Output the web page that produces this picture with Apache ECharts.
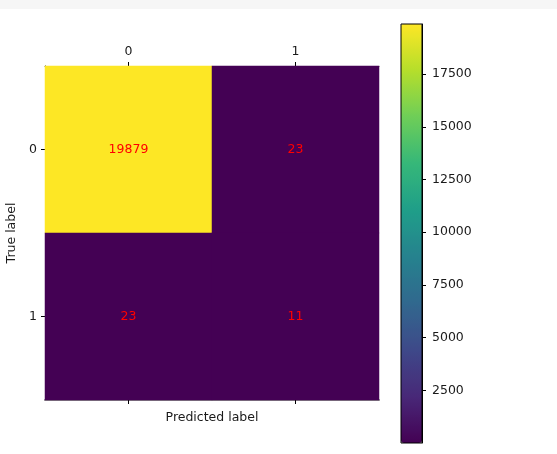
<!DOCTYPE html>
<html>
<head>
<meta charset="utf-8">
<title>confusion matrix</title>
<script src="https://cdn.jsdelivr.net/npm/echarts@6/dist/echarts.min.js"></script>
<style>
  html, body {margin: 0; padding: 0; background: #fff;}
  #chart {width: 557px; height: 454px;}
</style>
</head>
<body>
<div id="chart"></div>
<script>
  /******************/
  //region    //data

  let classes = ['0', '1'];
  // rows = true label, cols = predicted label
  let matrix = [
    [19879, 23],
    [23, 11],
  ];
  let barStep = 2500; // colorbar ticks 2500 .. 17500
  let viridis = ['#440154', '#482878', '#3e4989', '#31688e', '#26828e',
    '#1f9e89', '#35b779', '#6ece58', '#b5de2b', '#fde725'];

  //endregion

  /******************/
  //region    //chart

  let cells = [];
  matrix.forEach((row, r) => row.forEach((v, c) => cells.push([c, r, v])));
  let flat = [].concat(...matrix);
  let vMin = Math.min(...flat), vMax = Math.max(...flat);

  let font = 'DejaVu Sans';
  let txt = '#1a1a1a';
  let tick = {show: true, inside: false, alignWithLabel: true, length: 4, lineStyle: {color: '#000', width: 1}};
  let chart = echarts.init(document.getElementById('chart'));

  let option = {
    animation: false,
    textStyle: {fontFamily: font},
    graphic: [{
      type: 'rect',
      shape: {x: 0, y: 0, width: 557, height: 9},
      style: {fill: '#f6f6f6'},
      silent: true,
    }],
    grid: [
      {left: 45, top: 66, width: 334, height: 334, show: false, outerBoundsMode: 'none'},
      {left: 401, top: 24, width: 21, height: 419, show: true, outerBoundsMode: 'none',
        borderColor: '#000', borderWidth: 1, backgroundColor: 'transparent', z: 10},
    ],
    xAxis: [
      {
        type: 'category', data: classes, gridIndex: 0, position: 'top',
        axisLine: {show: true, lineStyle: {color: '#555', width: 1}},
        axisTick: tick,
        axisLabel: {color: txt, fontSize: 12.5, margin: 8},
        splitLine: {show: false},
      },
      {
        type: 'category', data: classes, gridIndex: 0, position: 'bottom',
        name: 'Predicted label', nameLocation: 'middle', nameGap: 11,
        nameTextStyle: {color: txt, fontSize: 12.5},
        axisLine: {show: true, lineStyle: {color: '#888', width: 2}},
        axisTick: tick,
        axisLabel: {show: false},
        splitLine: {show: false},
      },
      {
        type: 'value', gridIndex: 1, min: 0, max: 1, show: false,
      },
    ],
    yAxis: [
      {
        type: 'category', data: classes, gridIndex: 0, inverse: true,
        name: 'True label', nameLocation: 'middle', nameGap: 16, nameRotate: 90,
        nameTextStyle: {color: txt, fontSize: 12.5},
        axisLine: {show: true, lineStyle: {color: '#000', width: 1}},
        axisTick: tick,
        axisLabel: {color: txt, fontSize: 12.5, margin: 8},
        splitLine: {show: false},
      },
      {
        type: 'value', gridIndex: 1, min: 0, max: vMax, interval: barStep, position: 'right',
        z: 20,
        axisLine: {show: true, onZero: false, lineStyle: {color: '#000', width: 1}},
        axisTick: {show: true, inside: false, length: 4, lineStyle: {color: '#000', width: 1}},
        axisLabel: {color: txt, fontSize: 12.5, margin: 10, showMinLabel: false, showMaxLabel: false,
          formatter: (v) => String(v)},
        splitLine: {show: false},
      },
    ],
    visualMap: [{
      type: 'continuous',
      seriesIndex: 0,
      min: vMin, max: vMax,
      calculable: false, hoverLink: false,
      orient: 'vertical',
      left: 401, top: 24, padding: 0,
      itemWidth: 21, itemHeight: 419,
      text: null, showLabel: false,
      inRange: {color: viridis},
      z: 1,
    }],
    series: [{
      type: 'heatmap',
      xAxisIndex: 0, yAxisIndex: 0,
      data: cells,
      label: {show: true, color: '#ff0000', fontSize: 12.5, fontFamily: font},
      itemStyle: {borderWidth: 0},
      emphasis: {disabled: true},
      z: 1,
    }],
  };

  chart.setOption(option);

  //endregion
</script>
</body>
</html>
